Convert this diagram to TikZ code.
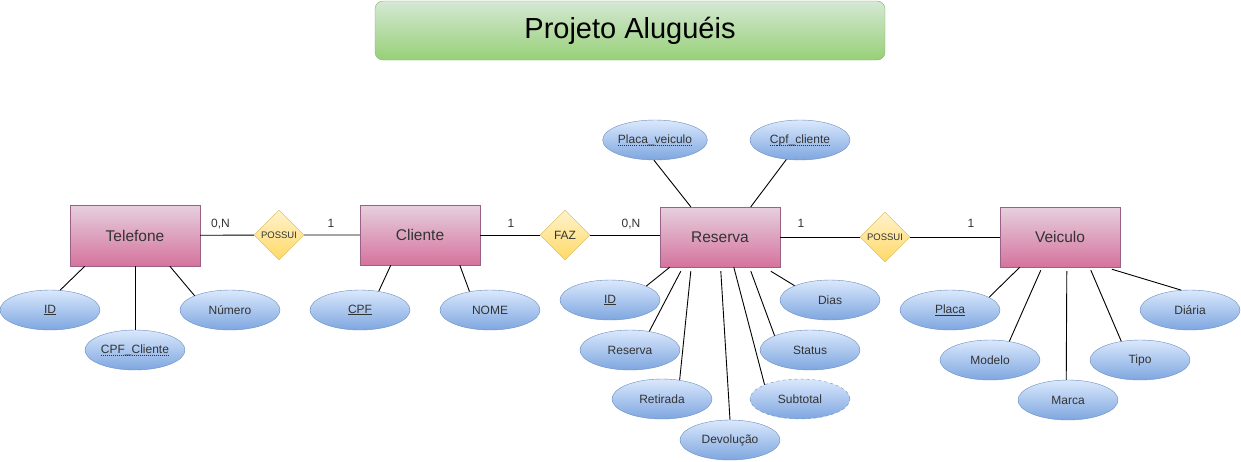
\documentclass[tikz,border=0pt]{standalone}
\usepackage{fontspec}
\setmainfont{Liberation Sans}
\usepackage{tikz}
\usepackage{xcolor}
\usetikzlibrary{shapes.geometric}

\definecolor{entTop}{HTML}{E6D0DE}
\definecolor{entBot}{HTML}{D5739D}
\definecolor{entLine}{HTML}{996185}
\definecolor{attTop}{HTML}{DAE8FC}
\definecolor{attBot}{HTML}{7EA6E0}
\definecolor{attLine}{HTML}{6C8EBF}
\definecolor{relTop}{HTML}{FFF2CC}
\definecolor{relBot}{HTML}{FFD966}
\definecolor{relLine}{HTML}{D6B656}
\definecolor{titTop}{HTML}{D5E8D4}
\definecolor{titBot}{HTML}{97D077}
\definecolor{titLine}{HTML}{82B366}
\definecolor{texto}{HTML}{333333}

% sublinhado pontilhado (chave estrangeira)
\newcommand\dotul[1]{\setbox0=\hbox{#1}\leavevmode\rlap{\smash{\raisebox{-3pt}{\hbox to \wd0{\xleaders\hbox to 2pt{\hss\rule{1pt}{0.7pt}\hss}\hfill}}}}\box0}

\tikzset{
  entidade/.style={rectangle, draw=entLine, top color=entTop, bottom color=entBot, minimum width=120pt, minimum height=60pt, inner sep=0pt, text=texto, font=\fontsize{15.5}{18}\selectfont},
  atributo/.style={ellipse, draw=attLine, top color=attTop, bottom color=attBot, minimum width=100pt, minimum height=40pt, inner sep=0pt, text=texto, font=\fontsize{12}{14}\selectfont},
  relacao/.style={diamond, draw=relLine, top color=relTop, bottom color=relBot, minimum width=50pt, minimum height=50pt, inner sep=0pt},
  card/.style={inner sep=0pt, anchor=base, text=texto, font=\fontsize{12}{14}\selectfont},
  ligacao/.style={draw=black, line width=0.9pt}
}

\begin{document}
\begin{tikzpicture}[x=1pt, y=-1pt]
\useasboundingbox (0,0) rectangle (1241,461);

% titulo
\node[rectangle, rounded corners=8pt, draw=titLine, top color=titTop, bottom color=titBot, minimum width=510pt, minimum height=59pt, font=\fontsize{29}{34}\selectfont] (titulo) at (630,30.5) {Projeto Aluguéis};

% entidades
\node[entidade, minimum width=130pt, minimum height=61pt] (telefone) at (135,235.5) {Telefone};
\node[entidade] (cliente) at (420,235) {Cliente};
\node[entidade] (reserva) at (720,237) {Reserva};
\node[entidade] (veiculo) at (1060,237) {Veiculo};

% relacionamentos
\node[relacao, label={[text=texto, font=\fontsize{9.5}{11}\selectfont]center:POSSUI}] (possui1) at (279,235) {};
\node[relacao, label={[text=texto, font=\fontsize{12}{14}\selectfont]center:FAZ}] (faz) at (565,235) {};
\node[relacao, label={[text=texto, font=\fontsize{9.5}{11}\selectfont]center:POSSUI}] (possui2) at (885,237) {};

% atributos de Telefone
\node[atributo] (idtel) at (50,310) {\underline{ID}};
\node[atributo] (cpftel) at (135,350) {\dotul{CPF\_Cliente}};
\node[atributo] (numtel) at (230,310) {Número};

% atributos de Cliente
\node[atributo] (cpfcli) at (360,310) {\underline{CPF}};
\node[atributo] (nomecli) at (490,310) {NOME};

% atributos de Reserva
\node[atributo] (placares) at (655,140) {\dotul{Placa\_veiculo}};
\node[atributo] (cpfres) at (800,140) {\dotul{Cpf\_cliente}};
\node[atributo] (idres) at (610,300) {\underline{ID}};
\node[atributo] (reservares) at (630,350) {Reserva};
\node[atributo] (retirada) at (662,399) {Retirada};
\node[atributo] (devolucao) at (730,440) {Devolução};
\node[atributo, dashed] (subtotal) at (800,399) {Subtotal};
\node[atributo] (status) at (810,350) {Status};
\node[atributo] (dias) at (830,300) {Dias};

% atributos de Veiculo
\node[atributo] (placa) at (950,310) {\underline{Placa}};
\node[atributo] (modelo) at (990,360) {Modelo};
\node[atributo] (marca) at (1068,400) {Marca};
\node[atributo] (tipo) at (1140,360) {Tipo};
\node[atributo] (diaria) at (1190,310) {Diária};

% ligacoes entre entidades
\draw[ligacao] (telefone) -- (possui1) -- (cliente);
\draw[ligacao] (cliente) -- (faz);
\draw[ligacao] (faz) -- (faz -| reserva.west);
\draw[ligacao] (reserva) -- (possui2) -- (veiculo);

% cardinalidades
\node[card] (c1) at (220.5,227) {0,N};
\node[card] (c2) at (331,227) {1};
\node[card] (c3) at (511,227) {1};
\node[card] (c4) at (631,227) {0,N};
\node[card] (c5) at (801,227) {1};
\node[card] (c6) at (971,227) {1};

% ligacoes dos atributos
\draw[ligacao] ([xshift=15pt]telefone.south west) -- (idtel.63);
\draw[ligacao] (telefone.south) -- (cpftel.north);
\draw[ligacao] ([xshift=100pt]telefone.south west) -- (numtel.158);
\draw[ligacao] ([xshift=31pt]cliente.south west) -- (cpfcli.45);
\draw[ligacao] ([xshift=100pt]cliente.south west) -- (nomecli.138);
\draw[ligacao] ([xshift=31pt]reserva.north west) -- (placares.267);
\draw[ligacao] ([xshift=91pt]reserva.north west) -- (cpfres.235);
\draw[ligacao] ([xshift=10pt]reserva.south west) -- (idres.21);
\draw[ligacao] ([xshift=21pt,yshift=-4pt]reserva.south west) -- (reservares.44);
\draw[ligacao] ([xshift=31pt,yshift=-4pt]reserva.south west) -- (retirada.47);
\draw[ligacao] ([xshift=61pt,yshift=-4pt]reserva.south west) -- (devolucao.north);
\draw[ligacao] ([xshift=74pt]reserva.south west) -- (subtotal.158);
\draw[ligacao] ([xshift=91pt,yshift=-4pt]reserva.south west) -- (status.158);
\draw[ligacao] ([xshift=111pt,yshift=-4pt]reserva.south west) -- (dias.158);
\draw[ligacao] ([xshift=20pt]veiculo.south west) -- (placa.18);
\draw[ligacao] ([xshift=41pt,yshift=-3pt]veiculo.south west) -- (modelo.44);
\draw[ligacao] ([xshift=67pt,yshift=-4pt]veiculo.south west) -- (marca.95);
\draw[ligacao] ([xshift=91pt,yshift=-3pt]veiculo.south west) -- (tipo.135);
\draw[ligacao] ([xshift=112pt,yshift=-2pt]veiculo.south west) -- (diaria.114);
\end{tikzpicture}
\end{document}
